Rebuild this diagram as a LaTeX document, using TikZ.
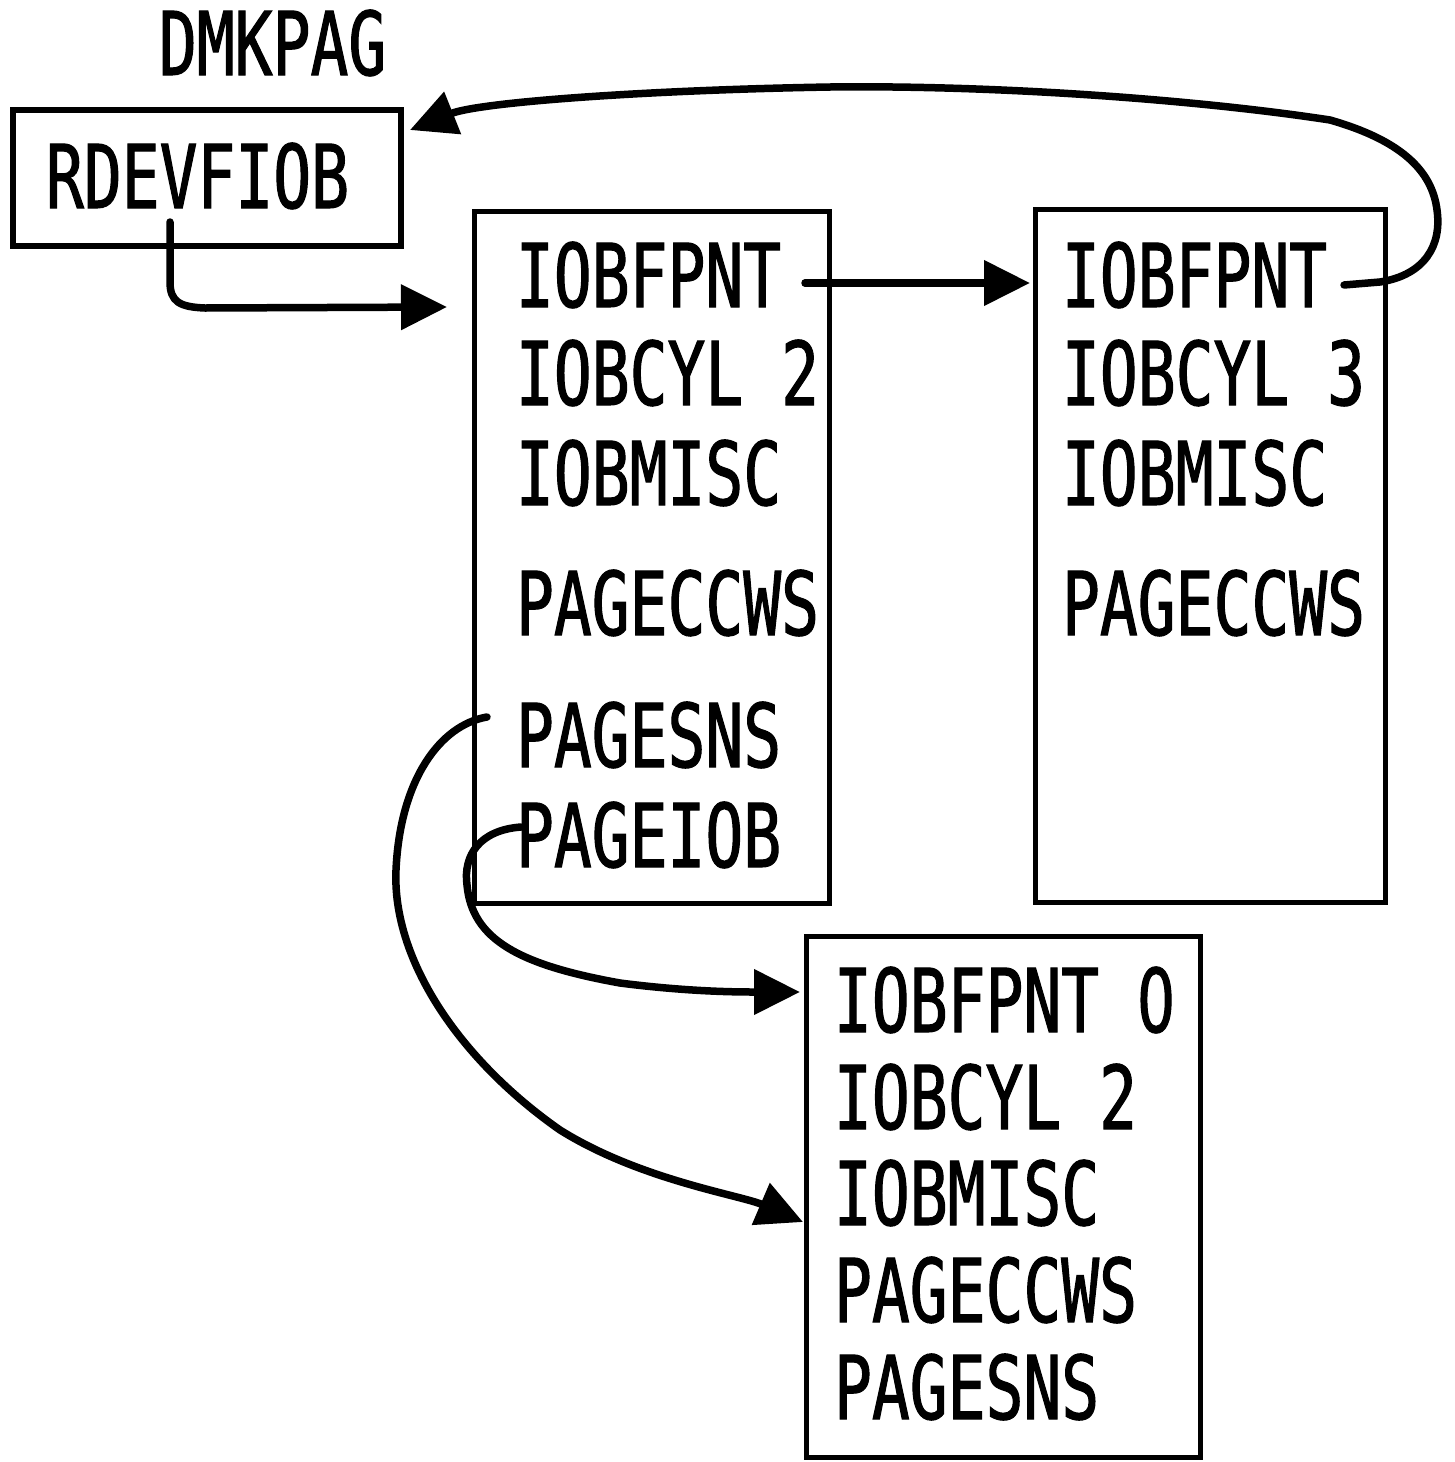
\documentclass[tikz,border=0pt]{standalone}
\usepackage{fontspec}
\newfontfamily\labelfont{DejaVu Sans Mono}[FakeStretch=0.715, FakeBold=1.2]
\newfontfamily\zerofont{DejaVu Sans}[FakeStretch=0.68, FakeBold=1.2]
\usetikzlibrary{arrows.meta}
\tikzset{
  frame/.style={draw, line width=5pt, inner sep=0pt, outer sep=0pt},
  entry/.style={anchor=base west, inner sep=0pt, outer sep=0pt,
    font=\labelfont\fontsize{88pt}{94pt}\selectfont},
  link/.style={line width=7.5pt, line cap=round, line join=round,
    -{Triangle[length=46pt,width=44pt]}},
}
\begin{document}
\begin{tikzpicture}[x=1pt,y=-1pt]
\useasboundingbox (0,0) rectangle (1454,1462);

% blocks
\node[frame, line width=6pt, minimum width=388pt, minimum height=136pt] (rdev) at (207,178) {};
\node[frame, minimum width=355pt, minimum height=692pt] (iob2) at (652,557) {};
\node[frame, minimum width=350pt, minimum height=693pt] (iob3) at (1210,556) {};
\node[frame, minimum width=394pt, minimum height=521pt] (iob0) at (1003,1197) {};

% labels
\node[entry] (mod) at (159,75) {DMKPAG};
\node[entry] (rdevt) at (46,208) {RDEVFIOB};

\node[entry] (a1) at (516,307) {IOBFPNT};
\node[entry] (a2) at (516,405) {IOBCYL 2};
\node[entry] (a3) at (516,505) {IOBMISC};
\node[entry] (a4) at (516,635) {PAGECCWS};
\node[entry] (a5) at (516,767) {PAGESNS};
\node[entry] (a6) at (516,867) {PAGEIOB};

\node[entry] (b1) at (1062,307) {IOBFPNT};
\node[entry] (b2) at (1062,405) {IOBCYL 3};
\node[entry] (b3) at (1062,505) {IOBMISC};
\node[entry] (b4) at (1062,635) {PAGECCWS};

\node[entry] (c1) at (834,1032) {IOBFPNT {\zerofont 0}};
\node[entry] (c2) at (834,1129) {IOBCYL 2};
\node[entry] (c3) at (834,1225) {IOBMISC};
\node[entry] (c4) at (834,1322) {PAGECCWS};
\node[entry] (c5) at (834,1419) {PAGESNS};

% connector ends
\coordinate (rdevs) at (170,222);
\coordinate (rdeve) at (447,307);
\coordinate (a1s) at (805,283);
\coordinate (a1e) at (1030,283);
\coordinate (b1s) at (1344,285);
\coordinate (b1e) at (410,130);
\coordinate (a5s) at (487,717);
\coordinate (a5e) at (803,1222);
\coordinate (a6s) at (521,827);
\coordinate (a6e) at (800,992);

% connectors
\draw[link] (rdevs) -- (170,282) .. controls (170,302) and (180,307) .. (205,308) -- (rdeve);
\draw[link] (a1s) -- (a1e);
\draw[link] (b1s) -- (1380,282)
  .. controls (1425,275) and (1442,245) .. (1437,210)
  .. controls (1432,170) and (1400,140) .. (1330,120)
  .. controls (1200,100) and (1000,85) .. (830,87)
  .. controls (650,90) and (480,102) .. (b1e);
\draw[link] (a5s) .. controls (440,725) and (400,780) .. (396,870)
  .. controls (392,960) and (460,1060) .. (560,1130)
  .. controls (640,1180) and (740,1195) .. (a5e);
\draw[link] (a6s) .. controls (480,830) and (463,855) .. (467,885)
  .. controls (472,940) and (520,965) .. (620,983)
  .. controls (690,992) and (740,992) .. (a6e);
\end{tikzpicture}
\end{document}
